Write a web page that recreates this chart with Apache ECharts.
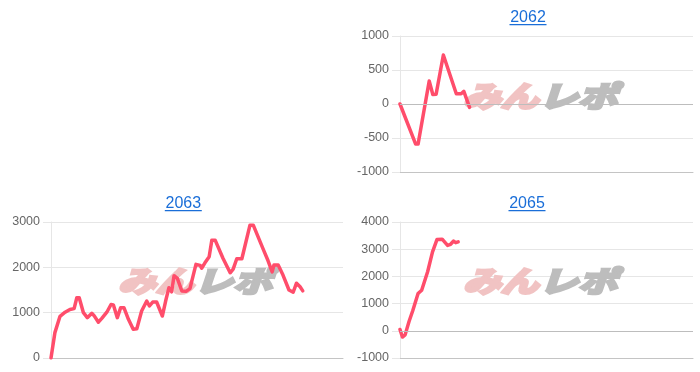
<!DOCTYPE html>
<html>
<head>
<meta charset="utf-8">
<script src="https://cdn.jsdelivr.net/npm/echarts@6/dist/echarts.min.js"></script>
<style>
html,body{margin:0;padding:0;background:#fff;}
#c{width:700px;height:372px;}
</style>
</head>
<body>
<div id="c"></div>
<script>
// ---- data (x = day index, y = balance) ----
const titles = ['2062', '2063', '2065'];

const x2062 = [0, 5.2, 6, 9.7, 10.9, 12, 14.4, 18.7, 20.3, 21.2, 23.1];
const y2062 = [0, -590, -590, 338, 140, 145, 720, 150, 150, 185, -50];

const x2063 = [0, 1.3, 3, 4.7, 6.3, 7.7, 8.6, 9.4, 10.8, 12.1, 13.6, 14.3, 15.8, 17, 18.6, 20, 20.8, 22.1, 23.2, 24.3,
  25.8, 27.4, 28.6, 30.2, 31.9, 32.8, 33.9, 35.2, 37.1, 38.2, 39.3, 40.2, 41, 42.1, 43.6, 45, 46.3, 48.3, 49.7, 50.2,
  51.3, 52.7, 53.6, 54.7, 57.3, 59.7, 60.7, 61.9, 63.6, 66.3, 67.4, 70.7, 72.3, 73.7, 74.3, 75.7, 77.3, 79.3, 80.7,
  81.8, 83, 83.9];
const y2063 = [0, 560, 920, 1010, 1070, 1090, 1330, 1330, 1000, 890, 985, 940, 790, 880, 1010, 1180, 1170, 890, 1110, 1110,
  853, 632, 647, 1037, 1257, 1147, 1235, 1235, 926, 1257, 1551, 1460, 1816, 1757, 1478, 1470, 1530, 2066, 2044, 1980,
  2100, 2235, 2600, 2600, 2200, 1880, 1960, 2190, 2190, 2930, 2930, 2400, 2150, 1900, 2050, 2050, 1830, 1500, 1450,
  1650, 1570, 1480];

const x2065 = [0, 0.8, 1.7, 3, 4.2, 6, 7.2, 9.2, 10.8, 12.3, 14, 15.8, 16.8, 17.8, 18.5, 19.3];
const y2065 = [50, -230, -150, 340, 730, 1370, 1490, 2180, 2900, 3360, 3370, 3140, 3180, 3300, 3240, 3270];

const yMin = [-1000, 0, -1000];
const yMax = [1000, 3000, 4000];
const yStep = [500, 1000, 1000];
const xMax = 97.3;

const xs = [x2062, x2063, x2065];
const ys = [y2062, y2063, y2065];

// ---- layout ----
const grids = [
  {left: 400, right: 7, top: 36, height: 136},
  {left: 51, right: 357, top: 222, height: 136},
  {left: 400, right: 7, top: 222, height: 136}
];
const titlePos = [[528, 17.5], [183.3, 203.5], [527, 203.5]];
const markPos = [[463, 96], [118, 281], [463, 281]];

const FONT = '"Liberation Sans", Arial, Helvetica, sans-serif';
const LINE_COLOR = '#ff4d6b';

const chart = echarts.init(document.getElementById('c'), null, {renderer: 'canvas'});

const xAxis = [], yAxis = [], series = [], graphic = [];
for (let i = 0; i < 3; i++) {
  xAxis.push({
    type: 'value', gridIndex: i, min: 0, max: xMax,
    axisLabel: {show: false}, axisTick: {show: false}, splitLine: {show: false},
    axisLine: {show: true, onZero: false, lineStyle: {color: '#c4c4c4', width: 1}}
  });
  yAxis.push({
    type: 'value', gridIndex: i, min: yMin[i], max: yMax[i], interval: yStep[i],
    axisLine: {show: true, lineStyle: {color: '#e6e6e6'}},
    axisTick: {show: true, length: 8, lineStyle: {color: '#e6e6e6'}},
    axisLabel: {color: '#666', fontSize: 12.5, fontFamily: FONT, margin: 11, formatter: v => String(v)},
    splitLine: {show: true, lineStyle: {color: '#e6e6e6', width: 1}}
  });
  const data = xs[i].map((x, k) => [x, ys[i][k]]);
  const s = {
    type: 'line', xAxisIndex: i, yAxisIndex: i, data: data,
    showSymbol: false, symbol: 'none', smooth: false, z: 3,
    lineStyle: {color: LINE_COLOR, width: 3.5, join: 'round', cap: 'round'}
  };
  if (yMin[i] < 0) {
    s.markLine = {
      silent: true, symbol: 'none', animation: false,
      label: {show: false},
      lineStyle: {color: '#bdbdbd', type: 'solid', width: 1},
      data: [{yAxis: 0}]
    };
  }
  series.push(s);

  // title with underline
  const [tx, ty] = titlePos[i];
  graphic.push({
    type: 'text', x: tx, y: ty, z: 10,
    style: {text: titles[i], fill: '#1a6ed8', font: '16px ' + FONT, textAlign: 'center', textVerticalAlign: 'middle'}
  });
  graphic.push({
    type: 'rect', x: tx - 18.5, y: ty + 6.5, z: 10,
    shape: {width: 37, height: 1.2},
    style: {fill: '#1a6ed8'}
  });

  // watermark
  const [mx, my] = markPos[i];
  graphic.push({
    type: 'text', x: mx, y: my, z: 1, scaleX: 1.3,
    style: {text: 'みん', fill: '#f1c3c3', stroke: '#f1c3c3', lineWidth: 3, font: 'italic bold 29px "Noto Sans CJK JP"', textAlign: 'left', textVerticalAlign: 'middle'}
  });
  graphic.push({
    type: 'text', x: mx + 76, y: my, z: 1, scaleX: 1.35,
    style: {text: 'レポ', fill: '#bdbdbd', stroke: '#bdbdbd', lineWidth: 3, font: 'italic bold 29px "Noto Sans CJK JP"', textAlign: 'left', textVerticalAlign: 'middle'}
  });
}

chart.setOption({
  animation: false,
  backgroundColor: '#ffffff',
  grid: grids,
  xAxis: xAxis,
  yAxis: yAxis,
  series: series,
  graphic: graphic
});
</script>
</body>
</html>
